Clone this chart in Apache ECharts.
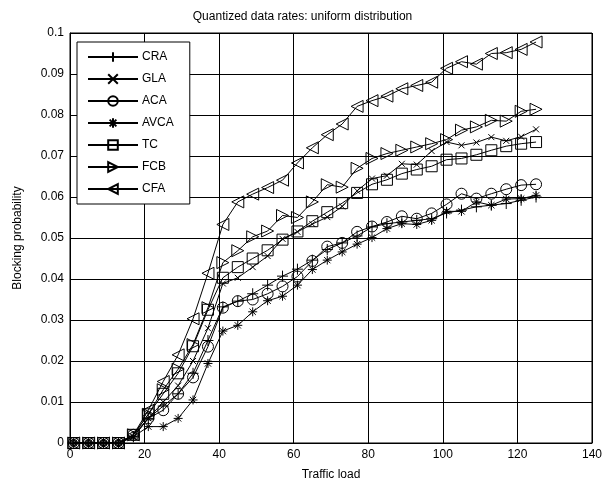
<!DOCTYPE html>
<html><head><meta charset="utf-8">
<script src="https://cdn.jsdelivr.net/npm/echarts@6/dist/echarts.min.js"></script>
<style>html,body{margin:0;padding:0;background:#fff}#c{width:605px;height:488px}</style>
</head><body><div id="c"></div>
<script>
const trafficLoad = [1,5,9,13,17,21,25,29,33,37,41,45,49,53,57,61,65,69,73,77,81,85,89,93,97,101,105,109,113,117,121,125];
const CRA  = [0,0,0,0,0.0015,0.006,0.009,0.012,0.017,0.025,0.0332,0.0346,0.0364,0.0385,0.0407,0.0424,0.0446,0.0472,0.0488,0.0505,0.0527,0.0535,0.0539,0.0543,0.0547,0.0561,0.0568,0.0576,0.058,0.0584,0.0592,0.06];
const GLA  = [0,0,0,0,0.0015,0.006,0.010,0.014,0.020,0.028,0.0389,0.0403,0.0429,0.0456,0.0498,0.0515,0.0534,0.0551,0.0577,0.0615,0.0645,0.0652,0.0681,0.0679,0.0712,0.0734,0.0726,0.0733,0.0746,0.0737,0.0747,0.0765];
const ACA  = [0,0,0,0,0.002,0.006,0.008,0.012,0.016,0.0235,0.033,0.0346,0.035,0.0364,0.0382,0.0406,0.0444,0.0479,0.0488,0.0515,0.0528,0.0539,0.0553,0.0547,0.056,0.0582,0.0608,0.0596,0.0608,0.0619,0.0629,0.0631];
const AVCA = [0,0,0,0,0.0015,0.004,0.004,0.006,0.0105,0.0194,0.0273,0.0287,0.032,0.0347,0.0358,0.0385,0.0423,0.0446,0.0466,0.0485,0.0501,0.0523,0.0535,0.0533,0.0543,0.0565,0.0565,0.0588,0.058,0.0595,0.0596,0.0604];
const TC   = [0,0,0,0,0.002,0.007,0.012,0.017,0.0236,0.0325,0.0403,0.0429,0.045,0.047,0.0496,0.0516,0.0541,0.0563,0.0585,0.061,0.0631,0.0642,0.0657,0.0667,0.0675,0.0691,0.0694,0.0703,0.0714,0.0724,0.073,0.0734];
const FCB  = [0,0,0,0,0.002,0.007,0.013,0.018,0.024,0.033,0.044,0.0469,0.0503,0.0517,0.0555,0.055,0.0588,0.063,0.0624,0.067,0.0694,0.0706,0.0714,0.0722,0.073,0.074,0.0763,0.0771,0.0787,0.0785,0.0809,0.0814];
const CFA  = [0,0,0,0,0.002,0.008,0.015,0.0215,0.0303,0.0414,0.0533,0.0588,0.0607,0.0623,0.0641,0.0683,0.072,0.0752,0.0778,0.0821,0.0835,0.0846,0.0864,0.0872,0.088,0.0914,0.093,0.0924,0.095,0.0952,0.096,0.0978];
const seriesNames = ['CRA','GLA','ACA','AVCA','TC','FCB','CFA'];
const seriesData = [CRA, GLA, ACA, AVCA, TC, FCB, CFA];

const symbols = {
  CRA: ['path://M5,0L5,10M0,5L10,5', 11],
  GLA: ['path://M0,0L10,10M0,10L10,0', 6],
  ACA: ['circle', 11],
  AVCA: ['path://M5,0L5,10M0,5L10,5M1.5,1.5L8.5,8.5M1.5,8.5L8.5,1.5', 9],
  TC: ['rect', 11],
  FCB: ['path://M0,0L10,5L0,10Z', 12],
  CFA: ['path://M10,0L0,5L10,10Z', 12]
};
const font = '"Liberation Sans", Arial, sans-serif';
const chart = echarts.init(document.getElementById('c'), null, {renderer: 'canvas'});
chart.setOption({
  animation: false,
  backgroundColor: '#fff',
  title: {text: 'Quantized data rates: uniform distribution', left: 'center', top: 6,
    textStyle: {fontFamily: font, fontSize: 12, fontWeight: 'normal', color: '#000'}},
  grid: {left: 70, right: 13, top: 33, bottom: 45, show: true, borderColor: '#000', borderWidth: 1},
  legend: {
    orient: 'vertical', left: 77, top: 42, itemWidth: 50, itemHeight: 12, itemGap: 10,
    padding: [9, 16, 9, 10], borderColor: '#000', borderWidth: 1, backgroundColor: '#fff',
    textStyle: {fontFamily: font, fontSize: 12, color: '#000', padding: [0, 0, 0, -1]},
    data: seriesNames
  },
  xAxis: {
    type: 'value', min: 0, max: 140, interval: 20,
    name: 'Traffic load', nameLocation: 'middle', nameGap: 26,
    nameTextStyle: {fontFamily: font, fontSize: 12, color: '#000'},
    axisLine: {lineStyle: {color: '#000'}}, axisTick: {inside: true, lineStyle: {color: '#000'}},
    axisLabel: {fontFamily: font, fontSize: 12, color: '#000', margin: 6},
    splitLine: {show: true, lineStyle: {color: '#000', width: 1}}
  },
  yAxis: {
    type: 'value', min: 0, max: 0.1, interval: 0.01,
    name: 'Blocking probability', nameLocation: 'middle', nameGap: 46,
    nameTextStyle: {fontFamily: font, fontSize: 12, color: '#000'},
    axisLine: {lineStyle: {color: '#000'}}, axisTick: {inside: true, lineStyle: {color: '#000'}},
    axisLabel: {fontFamily: font, fontSize: 12, color: '#000', margin: 6},
    splitLine: {show: true, lineStyle: {color: '#000', width: 1}}
  },
  series: seriesNames.map((n, i) => ({
    name: n, type: 'line',
    data: trafficLoad.map((x, j) => [x, seriesData[i][j]]),
    symbol: symbols[n][0], symbolSize: symbols[n][1],
    showAllSymbol: true,
    lineStyle: {color: '#000', width: 1},
    itemStyle: {color: 'rgba(0,0,0,0)', borderColor: '#000', borderWidth: 1}
  }))
});
</script></body></html>
